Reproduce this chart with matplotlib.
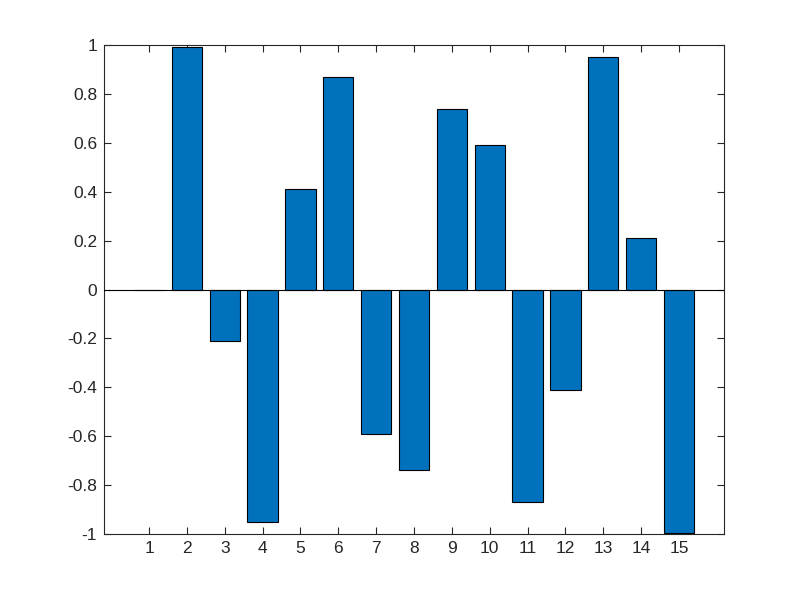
import matplotlib.pyplot as plt

x = list(range(1, 16))
y = [0, 0.99, -0.21, -0.95, 0.41, 0.87, -0.59, -0.74, 0.74, 0.59, -0.87, -0.41, 0.95, 0.21, -0.995]
y_ticks = [-1, -0.8, -0.6, -0.4, -0.2, 0, 0.2, 0.4, 0.6, 0.8, 1]
y_labels = ["-1", "-0.8", "-0.6", "-0.4", "-0.2", "0", "0.2", "0.4", "0.6", "0.8", "1"]

plt.rcParams["font.family"] = ["Liberation Sans", "DejaVu Sans"]

fig = plt.figure(figsize=(8, 6), dpi=100)
ax = fig.add_axes([0.13, 0.11, 0.775, 0.815])

ax.bar(x, y, 0.8, color="#0072BD", edgecolor="black", linewidth=0.8, zorder=2)
ax.axhline(0, color="black", linewidth=0.8, zorder=3)

ax.set_xlim(-0.19, 16.19)
ax.set_ylim(-1, 1)
ax.set_xticks(x)
ax.set_yticks(y_ticks)
ax.set_yticklabels(y_labels)

ax.tick_params(direction="in", top=True, right=True, length=5, width=0.8,
               colors="#262626", labelsize=12.5, pad=5)
for s in ax.spines.values():
    s.set_color("#262626")
    s.set_linewidth(0.8)

fig.savefig("out.png")
